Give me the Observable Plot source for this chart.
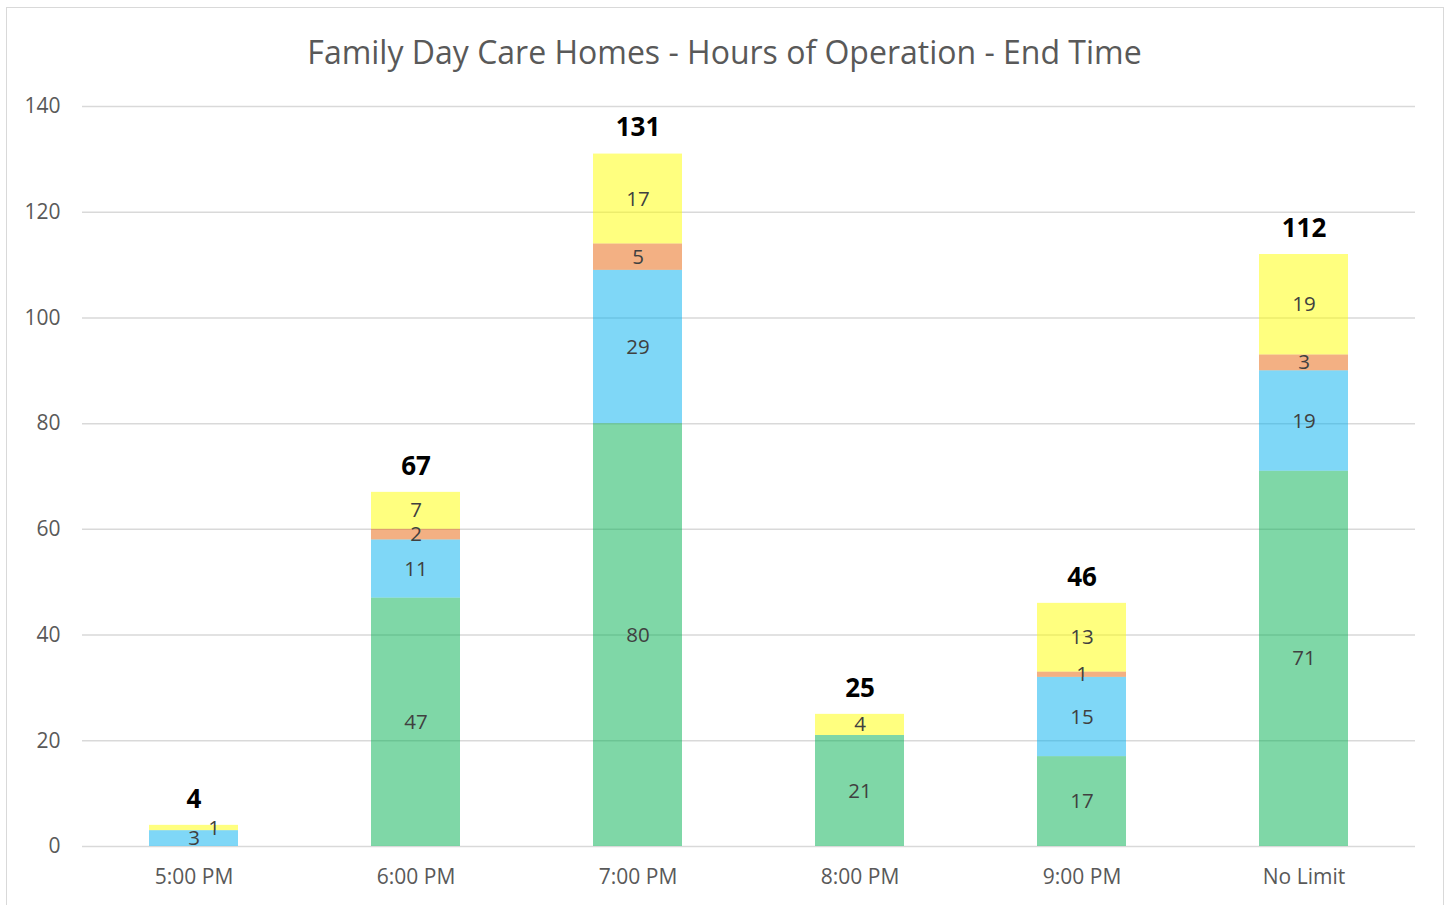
<!DOCTYPE html>
<html>
<head>
<meta charset="utf-8">
<script src="https://cdn.jsdelivr.net/npm/d3@7"></script>
<script src="https://cdn.jsdelivr.net/npm/@observablehq/plot@0.6"></script>
<style>
  html, body { margin: 0; padding: 0; background: #fff; overflow: hidden; }
  #frame { position: absolute; left: 6px; top: 7px; width: 1438px; height: 910px; border: 1.5px solid #d9d9d9; box-sizing: border-box; }
  #title { position: absolute; left: 0; width: 1449px; top: 29px; text-align: center; font-family: "Open Sans", sans-serif; font-size: 32px; color: #595959; line-height: 46px; }
  #chart { position: absolute; left: 0; top: 0; }
</style>
</head>
<body>
<div id="frame"></div>
<div id="title">Family Day Care Homes - Hours of Operation - End Time</div>
<div id="chart"></div>
<script>
const categories = ["5:00 PM", "6:00 PM", "7:00 PM", "8:00 PM", "9:00 PM", "No Limit"];
const seriesNames = ["Series 1", "Series 2", "Series 3", "Series 4"];
const series1 = [0, 47, 80, 21, 17, 71];
const series2 = [3, 11, 29, 0, 15, 19];
const series3 = [0, 2, 5, 0, 1, 3];
const series4 = [1, 7, 17, 4, 13, 19];
const seriesColors = ["#00b04f", "#00b0f0", "#e86207", "#ffff00"];
const yTicks = [0, 20, 40, 60, 80, 100, 120, 140];

const allSeries = [series1, series2, series3, series4];
const data = [];
seriesNames.forEach((s, si) => {
  categories.forEach((c, ci) => {
    data.push({category: c, series: s, value: allSeries[si][ci]});
  });
});
const totals = categories.map((c, ci) => ({category: c, total: d3.sum(allSeries, a => a[ci])}));

const font = "'Open Sans', sans-serif";
const isShifted = d => d.category === "5:00 PM" && d.series === "Series 4";

const plot = Plot.plot({
  width: 1449,
  height: 905,
  marginLeft: 82,
  marginRight: 34,
  marginTop: 106,
  marginBottom: 59,
  style: {fontFamily: font, background: "transparent"},
  x: {domain: categories, paddingInner: 0.6, paddingOuter: 0.3, label: null},
  y: {domain: [0, 140], ticks: yTicks, label: null},
  color: {domain: seriesNames, range: seriesColors},
  marks: [
    Plot.gridY(yTicks, {stroke: "#d9d9d9", strokeOpacity: 1, strokeWidth: 1.5}),
    Plot.axisY({ticks: yTicks, tickSize: 0, tickPadding: 22, fontSize: 21, fill: "#595959", label: null}),
    Plot.axisX({tickSize: 0, tickPadding: 23, fontSize: 21, fill: "#595959", label: null}),
    Plot.barY(data, Plot.stackY({x: "category", y: "value", fill: "series", fillOpacity: 0.5, order: null})),
    Plot.text(data, Plot.stackY({x: "category", y: "value", order: null,
      text: d => (d.value > 0 && !isShifted(d)) ? String(d.value) : "",
      fontSize: 20.5, fill: "#404040"})),
    Plot.text(data, Plot.stackY({x: "category", y: "value", order: null,
      text: d => (d.value > 0 && isShifted(d)) ? String(d.value) : "",
      dx: 20, fontSize: 20.5, fill: "#404040"})),
    Plot.text(totals, {x: "category", y: "total", text: d => String(d.total), dy: -26,
      fontSize: 26, fontWeight: "bold", fill: "#000"})
  ]
});
document.getElementById("chart").appendChild(plot);
</script>
</body>
</html>
